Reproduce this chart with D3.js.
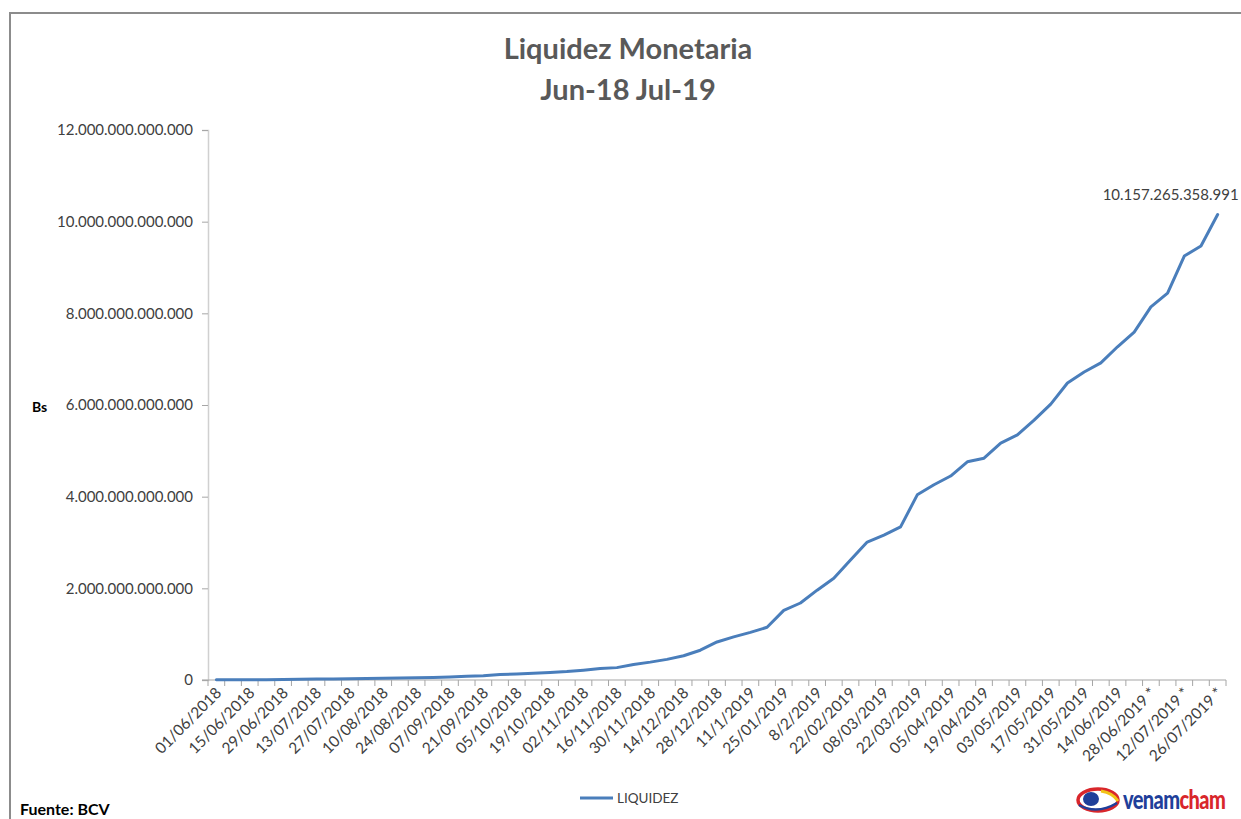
<!DOCTYPE html>
<html>
<head>
<meta charset="utf-8">
<script src="https://cdn.jsdelivr.net/npm/d3@7"></script>
<style>
  body { margin: 0; background: #fff; }
  svg text { font-family: Lato, "Open Sans", sans-serif; }
</style>
</head>
<body>
<div id="chart"></div>
<script>
// fechas semanales (categorias del eje x)
var fechas = [
  '01/06/2018', '08/06/2018', '15/06/2018', '22/06/2018', '29/06/2018', '06/07/2018',
  '13/07/2018', '20/07/2018', '27/07/2018', '03/08/2018', '10/08/2018', '17/08/2018',
  '24/08/2018', '31/08/2018', '07/09/2018', '14/09/2018', '21/09/2018', '28/09/2018',
  '05/10/2018', '12/10/2018', '19/10/2018', '26/10/2018', '02/11/2018', '09/11/2018',
  '16/11/2018', '23/11/2018', '30/11/2018', '07/12/2018', '14/12/2018', '21/12/2018',
  '28/12/2018', '04/01/2019', '11/1/2019', '18/01/2019', '25/01/2019', '01/02/2019',
  '8/2/2019', '15/02/2019', '22/02/2019', '01/03/2019', '08/03/2019', '15/03/2019',
  '22/03/2019', '29/03/2019', '05/04/2019', '12/04/2019', '19/04/2019', '26/04/2019',
  '03/05/2019', '10/05/2019', '17/05/2019', '24/05/2019', '31/05/2019', '07/06/2019',
  '14/06/2019', '21/06/2019', '28/06/2019 *', '05/07/2019 *', '12/07/2019 *', '19/07/2019 *',
  '26/07/2019 *'
];

// liquidez monetaria en billones de Bs (1e12)
var liquidez = [
  0.003, 0.004, 0.006, 0.008, 0.011, 0.015, 0.020, 0.024, 0.028, 0.032,
  0.036, 0.042, 0.048, 0.055, 0.065, 0.080, 0.095, 0.120, 0.130, 0.145,
  0.165, 0.185, 0.215, 0.250, 0.270, 0.340, 0.390, 0.450, 0.530, 0.650,
  0.830, 0.940, 1.040, 1.150, 1.520, 1.680, 1.960, 2.220, 2.620, 3.010,
  3.160, 3.340, 4.040, 4.260, 4.450, 4.760, 4.840, 5.170, 5.350, 5.670,
  6.020, 6.480, 6.720, 6.920, 7.270, 7.590, 8.140, 8.440, 9.250, 9.470,
  10.157265358991
];

var yTicks = [0, 2e12, 4e12, 6e12, 8e12, 10e12, 12e12];
var ultimoValor = '10.157.265.358.991';

var config = {
  width: 1241,
  height: 819,
  plot: { left: 208, right: 1226, top: 130, bottom: 680 },
  lineColor: '#4a7ebb',
  textColor: '#404040',
  axisColor: '#a6a6a6'
};

var data = fechas.map(function(f, i) {
  return { fecha: f, valor: liquidez[i] * 1e12 };
});

var es = d3.formatLocale({ decimal: ',', thousands: '.', grouping: [3], currency: ['', ''] });
var fmt = es.format(',.0f');

var svg = d3.select('#chart').append('svg')
  .attr('width', config.width)
  .attr('height', config.height);

// marco del grafico
svg.append('rect')
  .attr('x', 10).attr('y', 13)
  .attr('width', 1300).attr('height', 900)
  .attr('fill', 'none')
  .attr('stroke', '#8c8c8c')
  .attr('stroke-width', 2);

// titulo
var title = svg.append('text')
  .attr('text-anchor', 'middle')
  .attr('fill', '#595959')
  .style('font-size', '29px')
  .style('font-weight', 'bold');
title.append('tspan').attr('x', 628).attr('y', 59).text('Liquidez Monetaria');
title.append('tspan').attr('x', 628).attr('y', 100).text('Jun-18 Jul-19');

// escalas
var x = d3.scaleBand()
  .domain(fechas)
  .range([config.plot.left, config.plot.right])
  .padding(0);

var y = d3.scaleLinear()
  .domain([0, 12e12])
  .range([config.plot.bottom, config.plot.top]);

// eje y
var yAxis = svg.append('g')
  .attr('transform', 'translate(' + config.plot.left + ',0)')
  .call(d3.axisLeft(y).tickValues(yTicks).tickFormat(fmt).tickSize(6).tickPadding(9));
yAxis.select('.domain').attr('stroke', '#d0d0d0').attr('stroke-width', 1.5);
yAxis.selectAll('.tick line').attr('stroke', config.axisColor);
yAxis.selectAll('.tick text')
  .attr('fill', config.textColor)
  .style('font-size', '15px')
  .style('font-family', 'Lato, sans-serif');

// eje x
var xg = svg.append('g')
  .attr('transform', 'translate(0,' + config.plot.bottom + ')');
xg.append('line')
  .attr('x1', config.plot.left - 6).attr('x2', config.plot.right)
  .attr('y1', 0).attr('y2', 0)
  .attr('stroke', config.axisColor).attr('stroke-width', 1.2);
xg.selectAll('.xtick')
  .data(fechas.concat(['__fin']))
  .enter()
  .append('line')
  .attr('class', 'xtick')
  .attr('x1', function(d) { return d === '__fin' ? config.plot.right : x(d); })
  .attr('x2', function(d) { return d === '__fin' ? config.plot.right : x(d); })
  .attr('y1', 0).attr('y2', 6)
  .attr('stroke', config.axisColor);

xg.selectAll('.xlabel')
  .data(fechas.filter(function(d, i) { return i % 2 === 0; }))
  .enter()
  .append('text')
  .attr('class', 'xlabel')
  .attr('text-anchor', 'end')
  .attr('fill', config.textColor)
  .style('font-size', '15.5px')
  .attr('transform', function(d) {
    return 'translate(' + (x(d) + x.bandwidth() / 2 + 6) + ',14) rotate(-45)';
  })
  .text(function(d) { return d; });

// eje y titulo
svg.append('text')
  .attr('x', 32).attr('y', 412)
  .attr('fill', '#000')
  .style('font-size', '14px')
  .style('font-weight', 'bold')
  .text('Bs');

// linea
var line = d3.line()
  .x(function(d) { return x(d.fecha) + x.bandwidth() / 2; })
  .y(function(d) { return y(d.valor); });

svg.append('path')
  .datum(data)
  .attr('d', line)
  .attr('fill', 'none')
  .attr('stroke', config.lineColor)
  .attr('stroke-width', 3)
  .attr('stroke-linejoin', 'round')
  .attr('stroke-linecap', 'round');

// etiqueta del ultimo valor
var ultimo = data[data.length - 1];
svg.append('text')
  .attr('x', x(ultimo.fecha) + x.bandwidth() / 2 + 21)
  .attr('y', y(ultimo.valor) - 14)
  .attr('text-anchor', 'end')
  .attr('fill', config.textColor)
  .style('font-size', '15px')
  .text(ultimoValor);

// leyenda
var legend = svg.append('g').attr('transform', 'translate(580,798)');
legend.append('line')
  .attr('x1', 0).attr('x2', 33).attr('y1', 0).attr('y2', 0)
  .attr('stroke', config.lineColor).attr('stroke-width', 3);
legend.append('text')
  .attr('x', 37).attr('y', 5)
  .attr('fill', config.textColor)
  .style('font-size', '13.5px')
  .text('LIQUIDEZ');

// fuente
svg.append('text')
  .attr('x', 20).attr('y', 815)
  .attr('fill', '#000')
  .style('font-size', '16px')
  .style('font-weight', 'bold')
  .text('Fuente: BCV');

// logo venamcham (aproximado)
var logo = svg.append('g').attr('transform', 'translate(1077,787)');
logo.append('ellipse').attr('cx', 21).attr('cy', 13).attr('rx', 20).attr('ry', 11)
  .attr('fill', '#ffffff').attr('stroke', '#d9262b').attr('stroke-width', 3.5);
logo.append('ellipse').attr('cx', 14).attr('cy', 12).attr('rx', 8).attr('ry', 7)
  .attr('fill', '#1f3f9a');
logo.append('path').attr('d', 'M24,4 Q36,6 41,14').attr('fill', 'none')
  .attr('stroke', '#f2c318').attr('stroke-width', 3);
logo.append('path').attr('d', 'M2,18 Q20,28 40,16').attr('fill', 'none')
  .attr('stroke', '#1f3f9a').attr('stroke-width', 2.5);
var lt = logo.append('text')
  .attr('transform', 'translate(46,22) scale(1,1.35)')
  .style('font-family', 'Lato, sans-serif')
  .style('font-size', '20px')
  .style('font-weight', '900')
  .style('letter-spacing', '-0.6px');
lt.append('tspan').attr('fill', '#1f3f9a').text('venam');
lt.append('tspan').attr('fill', '#d9262b').text('cham');
</script>
</body>
</html>
